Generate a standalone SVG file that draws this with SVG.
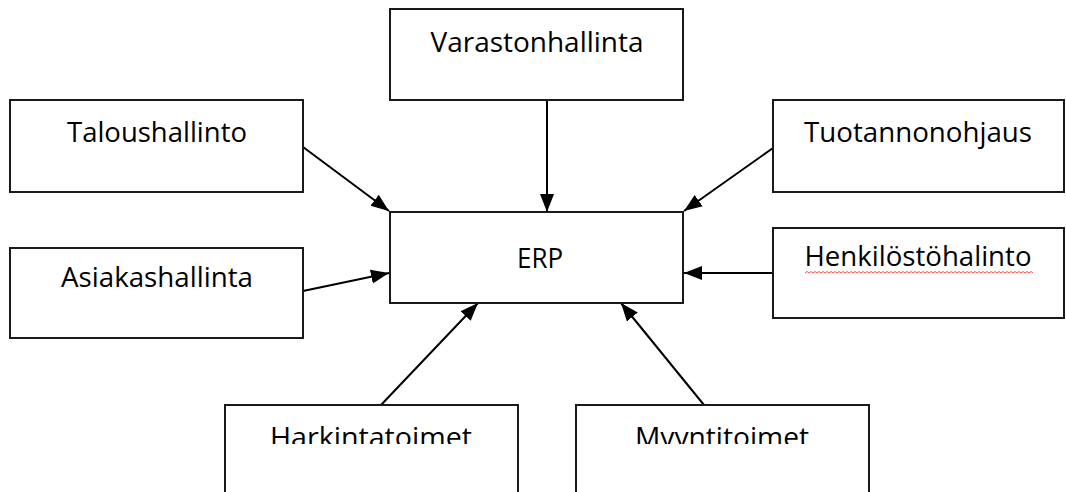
<svg xmlns="http://www.w3.org/2000/svg" width="1066" height="492" viewBox="0 0 1066 492">
  <style>
    .box { fill: #ffffff; stroke: #1a1a1a; stroke-width: 2; }
    .lbl { font-family: "Open Sans", "Noto Sans", "Liberation Sans", sans-serif; font-size: 28px; fill: #000; text-anchor: middle; }
    .conn { stroke: #000; stroke-width: 2; fill: none; marker-end: url(#arrow); }
  </style>
  <defs>
    <marker id="arrow" markerUnits="userSpaceOnUse" markerWidth="19" markerHeight="16" refX="18" refY="8" orient="auto">
      <path d="M0,1 L18,8 L0,15 Z" fill="#000"/>
    </marker>
    <clipPath id="bottomclip">
      <rect x="0" y="0" width="1066" height="444"/>
    </clipPath>
  </defs>
  <rect width="1066" height="492" fill="#ffffff"/>

  <g id="connectors">
    <line class="conn" x1="547" y1="100" x2="547" y2="212"/>
    <line class="conn" x1="303" y1="147" x2="389" y2="211"/>
    <line class="conn" x1="303" y1="291" x2="389" y2="273"/>
    <line class="conn" x1="773" y1="148" x2="684" y2="211"/>
    <line class="conn" x1="773" y1="273" x2="684" y2="273"/>
    <line class="conn" x1="381" y1="405" x2="478" y2="303"/>
    <line class="conn" x1="704" y1="405" x2="621" y2="303"/>
  </g>

  <g id="varastonhallinta">
    <rect class="box" x="390" y="9" width="293" height="91"/>
    <text class="lbl" x="537" y="52" textLength="213" lengthAdjust="spacingAndGlyphs">Varastonhallinta</text>
  </g>
  <g id="erp">
    <rect class="box" x="390" y="212" width="293" height="91"/>
    <text class="lbl" x="540" y="268" textLength="46" lengthAdjust="spacingAndGlyphs">ERP</text>
  </g>
  <g id="taloushallinto">
    <rect class="box" x="10" y="100" width="293" height="92"/>
    <text class="lbl" x="157" y="142" textLength="180" lengthAdjust="spacingAndGlyphs">Taloushallinto</text>
  </g>
  <g id="asiakashallinta">
    <rect class="box" x="10" y="248" width="293" height="90"/>
    <text class="lbl" x="157" y="287" textLength="192" lengthAdjust="spacingAndGlyphs">Asiakashallinta</text>
  </g>
  <g id="tuotannonohjaus">
    <rect class="box" x="773" y="100" width="291" height="92"/>
    <text class="lbl" x="918" y="142" textLength="228" lengthAdjust="spacingAndGlyphs">Tuotannonohjaus</text>
  </g>
  <g id="henkilostohalinto">
    <rect class="box" x="773" y="228" width="291" height="90"/>
    <text class="lbl" x="918" y="266" textLength="227" lengthAdjust="spacingAndGlyphs">Henkilöstöhalinto</text>
    <path d="M805,273 l2,-1.5 l2,1.5 l2,-1.5 l2,1.5 l2,-1.5 l2,1.5 l2,-1.5 l2,1.5 l2,-1.5 l2,1.5 l2,-1.5 l2,1.5 l2,-1.5 l2,1.5 l2,-1.5 l2,1.5 l2,-1.5 l2,1.5 l2,-1.5 l2,1.5 l2,-1.5 l2,1.5 l2,-1.5 l2,1.5 l2,-1.5 l2,1.5 l2,-1.5 l2,1.5 l2,-1.5 l2,1.5 l2,-1.5 l2,1.5 l2,-1.5 l2,1.5 l2,-1.5 l2,1.5 l2,-1.5 l2,1.5 l2,-1.5 l2,1.5 l2,-1.5 l2,1.5 l2,-1.5 l2,1.5 l2,-1.5 l2,1.5 l2,-1.5 l2,1.5 l2,-1.5 l2,1.5 l2,-1.5 l2,1.5 l2,-1.5 l2,1.5 l2,-1.5 l2,1.5 l2,-1.5 l2,1.5 l2,-1.5 l2,1.5 l2,-1.5 l2,1.5 l2,-1.5 l2,1.5 l2,-1.5 l2,1.5 l2,-1.5 l2,1.5 l2,-1.5 l2,1.5 l2,-1.5 l2,1.5 l2,-1.5 l2,1.5 l2,-1.5 l2,1.5 l2,-1.5 l2,1.5 l2,-1.5 l2,1.5 l2,-1.5 l2,1.5 l2,-1.5 l2,1.5 l2,-1.5 l2,1.5 l2,-1.5 l2,1.5 l2,-1.5 l2,1.5 l2,-1.5 l2,1.5 l2,-1.5 l2,1.5 l2,-1.5 l2,1.5 l2,-1.5 l2,1.5 l2,-1.5 l2,1.5 l2,-1.5 l2,1.5 l2,-1.5 l2,1.5 l2,-1.5 l2,1.5 l2,-1.5 l2,1.5 l2,-1.5 l2,1.5 l2,-1.5 l2,1.5 l2,-1.5 l2,1.5" fill="none" stroke="#ff3b3b" stroke-width="0.9"/>
  </g>
  <g id="harkintatoimet">
    <rect class="box" x="225" y="405" width="293" height="100"/>
    <text class="lbl" x="371" y="447" textLength="202" lengthAdjust="spacingAndGlyphs" clip-path="url(#bottomclip)">Harkintatoimet</text>
  </g>
  <g id="myyntitoimet">
    <rect class="box" x="576" y="405" width="293" height="100"/>
    <text class="lbl" x="722" y="447" textLength="174" lengthAdjust="spacingAndGlyphs" clip-path="url(#bottomclip)">Myyntitoimet</text>
  </g>
</svg>
